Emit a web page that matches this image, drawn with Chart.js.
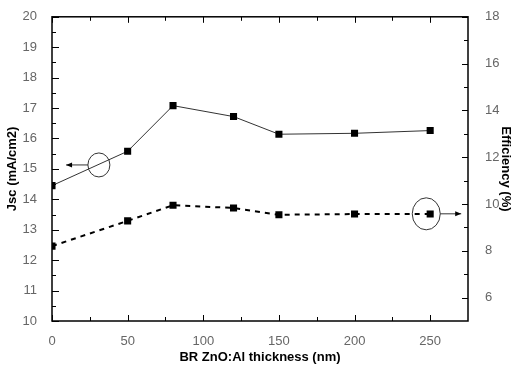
<!DOCTYPE html>
<html>
<head>
<meta charset="utf-8">
<script src="https://cdn.jsdelivr.net/npm/chart.js@4/dist/chart.umd.min.js"></script>
<style>
  html, body { margin: 0; padding: 0; background: #fff; }
  canvas { display: block; }
</style>
</head>
<body>
<canvas id="chart" width="514" height="369"></canvas>
<script>
// BR ZnO:Al thickness (nm)
const thickness = [0, 50, 80, 120, 150, 200, 250];
const jsc = [14.45, 15.58, 17.08, 16.72, 16.14, 16.17, 16.26];
const efficiency = [8.2, 9.28, 9.95, 9.83, 9.54, 9.57, 9.57];

const xTicks = [0, 50, 100, 150, 200, 250];
const xMinorTicks = [25, 75, 125, 175, 225];
const jscTicks = [10, 11, 12, 13, 14, 15, 16, 17, 18, 19, 20];
const jscMinorTicks = [10.5, 11.5, 12.5, 13.5, 14.5, 15.5, 16.5, 17.5, 18.5, 19.5];
const effTicks = [6, 8, 10, 12, 14, 16, 18];
const effMinorTicks = [7, 9, 11, 13, 15, 17];

// circled markers pointing to each series' axis (data units)
const jscMarker = { x: 31, y: 15.13, arrowFrom: 23.8, arrowTo: 9.3 };
const effMarker = { x: 247.4, y: 9.58, arrowFrom: 256.6, arrowTo: 270.5 };

const tickFont = { family: 'Arial, "Liberation Sans", sans-serif', size: 13 };
const titleFont = { family: 'Arial, "Liberation Sans", sans-serif', size: 13, weight: 'bold' };

const setTicks = list => scale => { scale.ticks = list.map(v => ({ value: v })); };

const frame = {
    id: 'frame',
    afterDraw(chart) {
        const { ctx, chartArea: a, scales } = chart;
        ctx.save();
        ctx.strokeStyle = '#000';
        ctx.lineWidth = 1.5;
        ctx.strokeRect(a.left, a.top, a.right - a.left, a.bottom - a.top);
        ctx.lineWidth = 1;
        ctx.beginPath();
        const hTicks = (vals, len) => vals.forEach(v => {
            const px = Math.round(scales.x.getPixelForValue(v)) + 0.5;
            ctx.moveTo(px, a.bottom); ctx.lineTo(px, a.bottom - len);
            ctx.moveTo(px, a.top); ctx.lineTo(px, a.top + len);
        });
        hTicks(xTicks, 6);
        hTicks(xMinorTicks, 4);
        const vTicks = (scale, vals, len, left) => vals.forEach(v => {
            const py = Math.round(scale.getPixelForValue(v)) + 0.5;
            const x0 = left ? a.left : a.right;
            ctx.moveTo(x0, py); ctx.lineTo(left ? x0 + len : x0 - len, py);
        });
        vTicks(scales.y, jscTicks, 7, true);
        vTicks(scales.y, jscMinorTicks, 4, true);
        vTicks(scales.y1, effTicks, 6, false);
        vTicks(scales.y1, effMinorTicks, 4, false);
        ctx.stroke();

        // circles + arrows
        const drawMarker = (m, yScale, rx, ry) => {
            const cx = scales.x.getPixelForValue(m.x);
            const cy = yScale.getPixelForValue(m.y);
            const x1 = scales.x.getPixelForValue(m.arrowFrom);
            const x2 = scales.x.getPixelForValue(m.arrowTo);
            ctx.beginPath();
            ctx.ellipse(cx, cy, rx, ry, 0, 0, Math.PI * 2);
            ctx.moveTo(x1, cy); ctx.lineTo(x2, cy);
            ctx.stroke();
            const dir = x2 > x1 ? 1 : -1;
            ctx.beginPath();
            ctx.moveTo(x2, cy);
            ctx.lineTo(x2 - dir * 6, cy - 2.5);
            ctx.lineTo(x2 - dir * 6, cy + 2.5);
            ctx.closePath();
            ctx.fillStyle = '#000';
            ctx.fill();
        };
        ctx.strokeStyle = '#333';
        drawMarker(jscMarker, scales.y, 11, 12);
        drawMarker(effMarker, scales.y1, 14, 16);
        ctx.restore();
    },
};

new Chart(document.getElementById('chart'), {
    type: 'line',
    data: {
        datasets: [
            {
                label: 'Jsc',
                data: thickness.map((x, i) => ({ x, y: jsc[i] })),
                yAxisID: 'y',
                borderColor: '#333',
                borderWidth: 1,
                pointStyle: 'rect',
                pointRadius: 5,
                pointBorderWidth: 0,
                pointBackgroundColor: '#000',
                tension: 0,
            },
            {
                label: 'Efficiency',
                data: thickness.map((x, i) => ({ x, y: efficiency[i] })),
                yAxisID: 'y1',
                borderColor: '#000',
                borderWidth: 2,
                borderDash: [5, 5],
                pointStyle: 'rect',
                pointRadius: 5,
                pointBorderWidth: 0,
                pointBackgroundColor: '#000',
                tension: 0,
            },
        ],
    },
    options: {
        responsive: false,
        animation: false,
        devicePixelRatio: 1,
        layout: { padding: { top: 13, left: 0, right: 0, bottom: 0 } },
        plugins: {
            legend: { display: false },
            tooltip: { enabled: false },
        },
        scales: {
            x: {
                type: 'linear',
                min: 0,
                max: 275,
                grid: { display: false },
                border: { display: false },
                afterBuildTicks: setTicks(xTicks),
                afterFit: scale => { scale.height = 48; },
                ticks: { font: tickFont, color: '#666', padding: 5, maxRotation: 0 },
                title: { display: true, text: 'BR ZnO:Al thickness (nm)', font: titleFont, color: '#000', padding: { top: 0, bottom: 4 } },
            },
            y: {
                position: 'left',
                min: 10,
                max: 20,
                grid: { display: false },
                border: { display: false },
                afterBuildTicks: setTicks(jscTicks),
                afterFit: scale => { scale.width = 52; },
                ticks: { font: tickFont, color: '#666', padding: 7 },
                title: { display: true, text: 'Jsc (mA/cm2)', font: titleFont, color: '#000', padding: { top: 5, bottom: 0 } },
            },
            y1: {
                position: 'right',
                min: 5,
                max: 18,
                grid: { display: false },
                border: { display: false },
                afterBuildTicks: setTicks(effTicks),
                afterFit: scale => { scale.width = 46; },
                ticks: { font: tickFont, color: '#666', padding: 9 },
                title: { display: true, text: 'Efficiency (%)', font: titleFont, color: '#000', padding: { top: 1, bottom: 0 } },
            },
        },
    },
    plugins: [frame],
});
</script>
</body>
</html>
